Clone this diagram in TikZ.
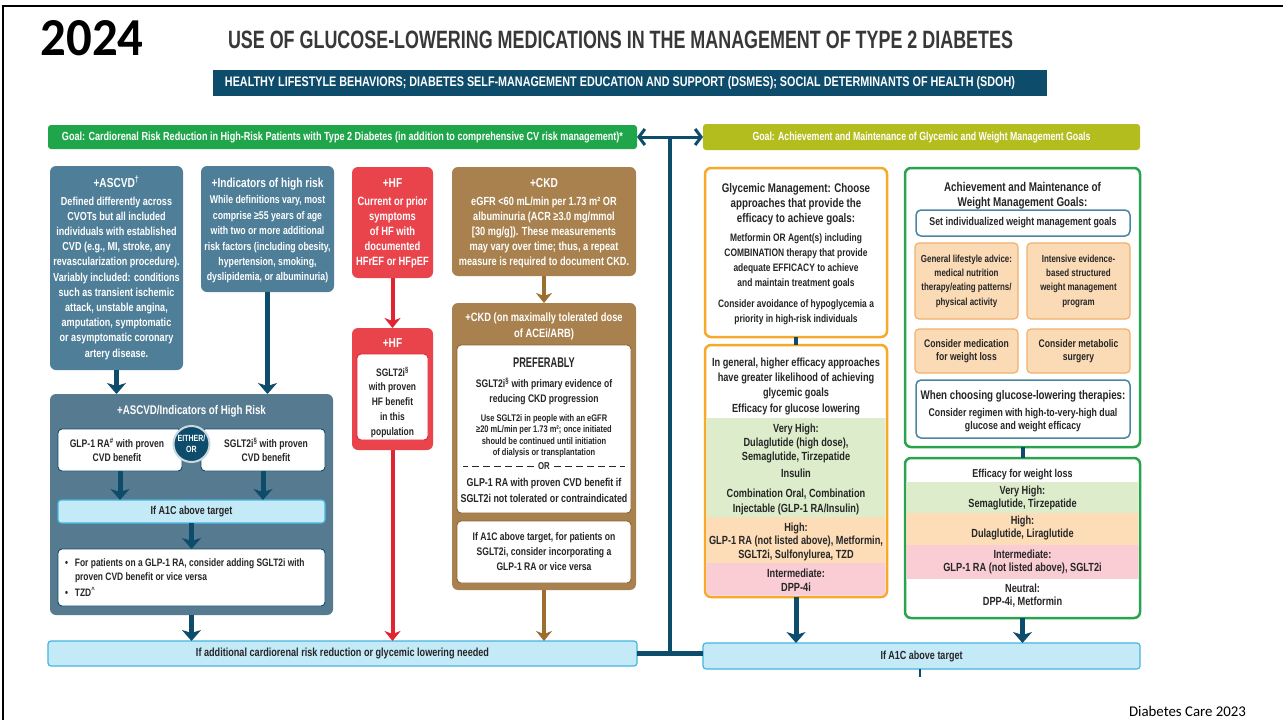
\documentclass[tikz,border=0pt]{standalone}
\usepackage{fontspec}
\setmainfont{Liberation Sans}[FakeStretch=0.78]
\newfontfamily\capsfont{Liberation Sans}[FakeStretch=0.66]
\newfontfamily\carlfont{Carlito}
\usepackage{graphicx}
\usetikzlibrary{arrows.meta,calc}

\definecolor{navy}{HTML}{0E4C6B}
\definecolor{steel}{HTML}{4E7E98}
\definecolor{steelbig}{HTML}{567A90}
\definecolor{steelline}{HTML}{4A86A3}
\definecolor{goalgreen}{HTML}{1FA64A}
\definecolor{olive}{HTML}{B4BD1E}
\definecolor{hfred}{HTML}{E9434C}
\definecolor{hfarrow}{HTML}{E32330}
\definecolor{tan}{HTML}{A8814E}
\definecolor{tanarrow}{HTML}{9C6F2F}
\definecolor{tandark}{HTML}{8A6434}
\definecolor{ltblue}{HTML}{C4EAF8}
\definecolor{ltblueb}{HTML}{45B5E0}
\definecolor{orng}{HTML}{F6A92B}
\definecolor{wgreen}{HTML}{2AA34E}
\definecolor{bandg}{HTML}{DDEDCB}
\definecolor{bando}{HTML}{FDDDB8}
\definecolor{bandp}{HTML}{F9CDD3}
\definecolor{peach}{HTML}{FBDAB6}
\definecolor{peachb}{HTML}{F3B06A}
\definecolor{txt}{HTML}{262626}
\definecolor{titlegray}{HTML}{383838}

\tikzset{
  every node/.style={inner sep=0pt, outer sep=0pt, font=\bfseries},
  tx/.style 2 args={font=\fontsize{#1}{#2}\selectfont\bfseries, align=center},
  wt/.style={text=white},
  dk/.style={text=txt},
  panel/.style={anchor=north west, rounded corners=6pt, draw=none},
  wbox/.style={anchor=north west, rounded corners=4pt, fill=white, line width=0.9pt},
  obox/.style={anchor=north west, rounded corners=6pt, fill=white, draw=orng, line width=2.5pt},
  gbox/.style={anchor=north west, rounded corners=6pt, fill=white, draw=wgreen, line width=2.5pt},
  bluebox/.style={anchor=north west, rounded corners=5pt, fill=white, draw=steelline, line width=1.5pt},
  peachbox/.style={anchor=north west, rounded corners=4pt, fill=peach, draw=peachb, line width=1.2pt},
  lbar/.style={anchor=north west, rounded corners=3pt, fill=ltblue, draw=ltblueb, line width=1.2pt, text=txt},
  goalbar/.style={anchor=north west, rounded corners=3pt, draw=none},
  navarr/.style={draw=navy, line width=5pt, -{Stealth[length=11pt, width=19pt, inset=3pt]}},
  redarr/.style={draw=hfarrow, line width=4pt, -{Stealth[length=10pt, width=16pt, inset=3pt]}},
  tanarr/.style={draw=tanarrow, line width=4pt, -{Stealth[length=10pt, width=16pt, inset=3pt]}},
  link/.style={draw=navy, line width=4pt}
}

\begin{document}
\begin{tikzpicture}[x=1pt,y=-1pt]
\useasboundingbox (0,0) rectangle (1283,720);
\fill[white] (0,0) rectangle (1283,720);

% page frame
\draw[line width=2.5pt, black] (3,720) -- (3,6) -- (1283,6);

% heading
\node (year) at (92,38) {\resizebox{103pt}{35pt}{\carlfont\bfseries 2024}};
\node[text=titlegray] (title) at (620.5,40) {\resizebox{785pt}{17.5pt}{\capsfont\bfseries USE OF GLUCOSE-LOWERING MEDICATIONS IN THE MANAGEMENT OF TYPE 2 DIABETES}};
\node[anchor=north west, fill=navy, minimum width=834pt, minimum height=26pt] (life) at (213,70) {};
\node[wt] (life-t) at (620,83) {\resizebox{790pt}{10pt}{\capsfont\bfseries HEALTHY LIFESTYLE BEHAVIORS; DIABETES SELF-MANAGEMENT EDUCATION AND SUPPORT (DSMES); SOCIAL DETERMINANTS OF HEALTH (SDOH)}};

% goal bars
\node[goalbar, fill=goalgreen, minimum width=589pt, minimum height=24pt] (goalL) at (48,125) {};
\node[wt] (goalL-t) at (goalL.center) {\resizebox{561pt}{8.5pt}{Goal: Cardiorenal Risk Reduction in High-Risk Patients with Type 2 Diabetes (in addition to comprehensive CV risk management)*}};
\node[goalbar, fill=olive, minimum width=437pt, minimum height=26pt] (goalR) at (703,124) {};
\node[wt] (goalR-t) at (goalR.center) {\resizebox{338pt}{8.5pt}{Goal: Achievement and Maintenance of Glycemic and Weight Management Goals}};

% ---------------- left: cardiorenal risk ----------------
\node[panel, fill=steel, minimum width=133pt, minimum height=204pt] (ascvd) at (50,166) {};
\node[wt, tx={13}{15}, anchor=base] (ascvd-h) at (116.5,187) {+ASCVD\textsuperscript{†}};
\node[wt, tx={11.6}{15.2}, anchor=north] (ascvd-b) at (116.5,196.6) {Defined differently across\\CVOTs but all included\\individuals with established\\CVD (e.g., MI, stroke, any\\revascularization procedure).\\Variably included: conditions\\such as transient ischemic\\attack, unstable angina,\\amputation, symptomatic\\or asymptomatic coronary\\artery disease.};

\node[panel, fill=steel, minimum width=133pt, minimum height=126pt] (ind) at (201,166) {};
\node[wt, tx={13}{15}, anchor=base] (ind-h) at (267.5,187) {+Indicators of high risk};
\node[wt, tx={11.2}{15.4}, anchor=north] (ind-b) at (267.5,195.8) {While definitions vary, most\\comprise ≥55 years of age\\with two or more additional\\risk factors (including obesity,\\hypertension, smoking,\\dyslipidemia, or albuminuria)};

\node[panel, fill=hfred, minimum width=81pt, minimum height=111pt] (hf) at (352,167) {};
\node[wt, tx={13}{15}, anchor=base] (hf-h) at (392.5,187) {+HF};
\node[wt, tx={12}{15}, anchor=north] (hf-b) at (392.5,196.5) {Current or prior\\symptoms\\of HF with\\documented\\HFrEF or HFpEF};

\node[panel, fill=tan, minimum width=184pt, minimum height=109pt] (ckd) at (452,167) {};
\node[wt, tx={13}{15}, anchor=base] (ckd-h) at (544,187) {+CKD};
\node[wt, tx={11.8}{15}, anchor=north] (ckd-b) at (544,196.6) {eGFR <60 mL/min per 1.73 m² OR\\albuminuria (ACR ≥3.0 mg/mmol\\{[}30 mg/g{]}). These measurements\\may vary over time; thus, a repeat\\measure is required to document CKD.};

% HF pathway
\node[panel, fill=hfred, minimum width=81pt, minimum height=122pt] (hf2) at (352,328) {};
\node[wt, tx={13}{15}, anchor=base] (hf2-h) at (392.5,347) {+HF};
\node[wbox, draw=hfarrow, minimum width=71pt, minimum height=86pt] (hf2w) at (357,354) {};
\node[dk, tx={10.8}{14.8}, anchor=north] (hf2w-t) at (392.5,366.8) {SGLT2i\textsuperscript{§}\\with proven\\HF benefit\\in this\\population};

% CKD pathway
\node[panel, fill=tan, minimum width=184pt, minimum height=287pt] (ckd2) at (452,303) {};
\node[wt, tx={12}{16}, anchor=north] (ckd2-h) at (544,312.6) {+CKD (on maximally tolerated dose\\of ACEi/ARB)};
\node[wbox, draw=tandark, minimum width=174pt, minimum height=168pt] (pref) at (457,345) {};
\node[dk, font=\fontsize{14}{16}\selectfont\capsfont\bfseries] (pref-h) at (544,363) {PREFERABLY};
\node[dk, tx={11}{15}, anchor=north] (pref-a) at (544,378) {SGLT2i\textsuperscript{§} with primary evidence of\\reducing CKD progression};
\node[dk, tx={9.6}{11.5}, anchor=north] (pref-b) at (544,414.5) {Use SGLT2i in people with an eGFR\\≥20 mL/min per 1.73 m²; once initiated\\should be continued until initiation\\of dialysis or transplantation};
\node[dk, tx={10}{12}] (pref-or) at (544,466) {OR};
\draw[txt, line width=1pt, dash pattern=on 7pt off 4pt] (pref-or.west) ++(-4,0) -- (463,466);
\draw[txt, line width=1pt, dash pattern=on 7pt off 4pt] (pref-or.east) ++(4,0) -- (625,466);
\node[dk, tx={11.4}{16}, anchor=north] (pref-c) at (544,477.8) {GLP-1 RA with proven CVD benefit if\\SGLT2i not tolerated or contraindicated};
\node[wbox, draw=tandark, minimum width=174pt, minimum height=62pt] (ckdadd) at (457,521) {};
\node[dk, tx={11}{15}] (ckdadd-t) at (ckdadd.center) {If A1C above target, for patients on\\SGLT2i, consider incorporating a\\GLP-1 RA or vice versa};

% ASCVD / indicators pathway
\node[panel, fill=steelbig, minimum width=283pt, minimum height=221pt] (big) at (50,394) {};
\node[wt, tx={12.5}{15}, anchor=base] (big-h) at (191.5,414) {+ASCVD/Indicators of High Risk};
\node[wbox, draw=navy, minimum width=124pt, minimum height=42pt] (glp) at (58,429) {};
\node[dk, tx={11}{14}] (glp-t) at ([xshift=-3pt]glp.center) {GLP-1 RA\textsuperscript{\#} with proven\\CVD benefit};
\node[wbox, draw=navy, minimum width=124pt, minimum height=42pt] (sglt) at (201,429) {};
\node[dk, tx={11}{14}] (sglt-t) at ([xshift=3pt]sglt.center) {SGLT2i\textsuperscript{§} with proven\\CVD benefit};
\node[circle, fill=navy, draw=white!70!steel, line width=2pt, minimum size=36pt, wt, tx={9}{11}] (either) at (191.5,444) {EITHER/\\OR};
\node[lbar, minimum width=267pt, minimum height=23pt, tx={11.5}{13}] (a1cL) at (58,500) {If A1C above target};
\node[wbox, draw=navy, minimum width=267pt, minimum height=57pt] (bul) at (58,549) {};
\node[dk, anchor=north west, align=left, font=\fontsize{10.8}{14}\selectfont\bfseries] (bul-t) at (65,559) {\textbullet\hspace{7pt}For patients on a GLP-1 RA, consider adding SGLT2i with\\\hspace{10pt}proven CVD benefit or vice versa\\[2pt]\textbullet\hspace{7pt}TZD\textsuperscript{\textasciicircum}};

\draw[navarr] (ascvd.south) -- (ascvd.south |- big.north);
\draw[navarr] (ind.south) -- (ind.south |- big.north);
\draw[navarr] (glp.south) -- (glp.south |- a1cL.north);
\draw[navarr] (sglt.south) -- (sglt.south |- a1cL.north);
\draw[navarr] (a1cL.south) -- (bul.north);
\draw[redarr] (hf.south) -- (hf2.north);
\draw[tanarr] (ckd.south) -- (ckd2.north);

% bottom bar of the left half
\node[lbar, minimum width=589pt, minimum height=25pt] (botL) at (48,641) {\resizebox{293pt}{8.5pt}{If additional cardiorenal risk reduction or glycemic lowering needed}};
\draw[navarr] (big.south) -- (big.south |- botL.north);
\draw[redarr] (hf2.south) -- (hf2.south |- botL.north);
\draw[tanarr] (ckd2.south) -- (ckd2.south |- botL.north);

% ---------------- right: glycemic and weight goals ----------------
\node[obox, minimum width=182pt, minimum height=169pt] (gm) at (705,168) {};
\node[dk, tx={12.5}{15}, anchor=north] (gm-h) at (796,183.5) {Glycemic Management: Choose\\approaches that provide the\\efficacy to achieve goals:};
\node[dk, tx={10.8}{15}, anchor=north] (gm-b) at (796,234) {Metformin OR Agent(s) including\\COMBINATION therapy that provide\\adequate EFFICACY to achieve\\and maintain treatment goals};
\node[dk, tx={10.8}{15}, anchor=north] (gm-c) at (796,300) {Consider avoidance of hypoglycemia a\\priority in high-risk individuals};

\node[obox, minimum width=182pt, minimum height=252pt] (eff) at (705,345) {};
\begin{scope}
  \clip[rounded corners=4pt] (706.3,346.3) rectangle (885.7,595.7);
  \fill[bandg] (700,418) rectangle (890,517);
  \fill[bando] (700,517) rectangle (890,563);
  \fill[bandp] (700,563) rectangle (890,600);
\end{scope}
\node[dk, tx={11.8}{15}, anchor=north] (eff-a) at (796,357.7) {In general, higher efficacy approaches\\have greater likelihood of achieving\\glycemic goals};
\node[dk, tx={11.8}{14}, anchor=base] (eff-b) at (796,412.2) {Efficacy for glucose lowering};
\node[dk, tx={11.8}{14}, anchor=north] (eff-c) at (796,423.7) {Very High:\\Dulaglutide (high dose),\\Semaglutide, Tirzepatide};
\node[dk, tx={11.8}{14}, anchor=base] (eff-d) at (796,477.2) {Insulin};
\node[dk, tx={11.8}{15}, anchor=north] (eff-e) at (796,488.7) {Combination Oral, Combination\\Injectable (GLP-1 RA/Insulin)};
\node[dk, tx={11.8}{13.5}, anchor=north] (eff-f) at (796,522.7) {High:\\GLP-1 RA (not listed above), Metformin,\\SGLT2i, Sulfonylurea, TZD};
\node[dk, tx={11.8}{14}, anchor=north] (eff-g) at (796,568.7) {Intermediate:\\DPP-4i};
\draw[link] (gm.south) -- (eff.north);

\node[gbox, minimum width=235pt, minimum height=279pt] (wb) at (905,168) {};
\node[dk, tx={12.7}{15}, anchor=north] (wb-h) at (1022.5,182.4) {Achievement and Maintenance of\\Weight Management Goals:};
\node[bluebox, minimum width=214pt, minimum height=26pt, dk, tx={11.3}{13}] (setg) at (916,210) {Set individualized weight management goals};
\node[peachbox, minimum width=103pt, minimum height=76pt] (ob1) at (915,243) {};
\node[dk, tx={10.2}{14.3}] (ob1-t) at (ob1.center) {General lifestyle advice:\\medical nutrition\\therapy/eating patterns/\\physical activity};
\node[peachbox, minimum width=103pt, minimum height=76pt] (ob2) at (1027,243) {};
\node[dk, tx={10.2}{14.3}] (ob2-t) at (ob2.center) {Intensive evidence-\\based structured\\weight management\\program};
\node[peachbox, minimum width=103pt, minimum height=44pt] (ob3) at (915,329) {};
\node[dk, tx={11}{13.5}] (ob3-t) at (ob3.center) {Consider medication\\for weight loss};
\node[peachbox, minimum width=103pt, minimum height=44pt] (ob4) at (1027,329) {};
\node[dk, tx={11}{13.5}] (ob4-t) at (ob4.center) {Consider metabolic\\surgery};
\node[bluebox, minimum width=214pt, minimum height=58pt] (wc) at (916,380) {};
\node[dk, tx={12.5}{15}, anchor=base] (wc-h) at (1023,399.6) {When choosing glucose-lowering therapies:};
\node[dk, tx={11.2}{13.5}, anchor=north] (wc-b) at (1023,408) {Consider regimen with high-to-very-high dual\\glucose and weight efficacy};

\node[gbox, minimum width=235pt, minimum height=160pt] (we) at (905,458) {};
\begin{scope}
  \clip[rounded corners=4pt] (906.3,459.3) rectangle (1138.7,616.7);
  \fill[bandg] (900,482) rectangle (1145,513);
  \fill[bando] (900,513) rectangle (1145,545);
  \fill[bandp] (900,545) rectangle (1145,579);
\end{scope}
\node[dk, tx={11.5}{14}, anchor=base] (we-a) at (1022.5,477.1) {Efficacy for weight loss};
\node[dk, tx={11.8}{13}, anchor=north] (we-b) at (1022.5,485.7) {Very High:\\Semaglutide, Tirzepatide};
\node[dk, tx={11.8}{13}, anchor=north] (we-c) at (1022.5,515.7) {High:\\Dulaglutide, Liraglutide};
\node[dk, tx={11.8}{13}, anchor=north] (we-d) at (1022.5,549.7) {Intermediate:\\GLP-1 RA (not listed above), SGLT2i};
\node[dk, tx={11.8}{13}, anchor=north] (we-e) at (1022.5,583.7) {Neutral:\\DPP-4i, Metformin};
\draw[link] (wb.south) -- (we.north);

% bottom bar of the right half
\node[lbar, minimum width=437pt, minimum height=26pt] (botR) at (703,643) {\resizebox{82pt}{8.5pt}{If A1C above target}};
\draw[navarr] (eff.south) -- (eff.south |- botR.north);
\draw[navarr] (we.south) -- (we.south |- botR.north);
\coordinate (tick) at (920,669);
\draw[navy, line width=1.5pt] (tick) -- ++(0,8);

% links between the two halves
\coordinate (hubT) at ($(goalL.east)!0.5!(goalR.west)$);
\draw[navy, line width=3pt, {Straight Barb[length=6pt,width=16pt]}-{Straight Barb[length=6pt,width=16pt]}] (goalL.east) -- (goalR.west);
\draw[navy, line width=3.5pt] (hubT) -- (hubT |- botL.east);
\draw[navy, line width=5pt] (botL.east) -- (botL.east -| botR.west);

% source
\node[anchor=base east] (src) at (1246,716) {\resizebox{117pt}{!}{\carlfont\mdseries Diabetes Care 2023}};
\end{tikzpicture}
\end{document}
